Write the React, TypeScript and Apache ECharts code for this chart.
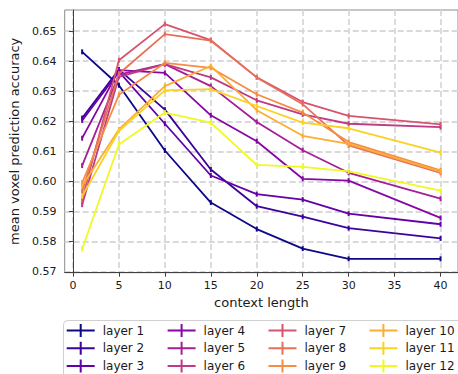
import React, { useEffect, useRef } from "react";
import * as echarts from "echarts";

const contextLengths = [1, 5, 10, 15, 20, 25, 30, 40];
const xTicks = [0, 5, 10, 15, 20, 25, 30, 35, 40];
const yTicks = [0.57, 0.58, 0.59, 0.6, 0.61, 0.62, 0.63, 0.64, 0.65];

const layer1 = [0.6431, 0.632, 0.6103, 0.593, 0.5842, 0.5777, 0.5743, 0.5743];
const layer2 = [0.6211, 0.6372, 0.6239, 0.604, 0.5918, 0.5883, 0.5845, 0.5811];
const layer3 = [0.6203, 0.6365, 0.6192, 0.602, 0.5958, 0.594, 0.5893, 0.5858];
const layer4 = [0.6144, 0.637, 0.6361, 0.622, 0.6134, 0.6009, 0.6003, 0.5879];
const layer5 = [0.6053, 0.6355, 0.639, 0.6317, 0.6198, 0.6104, 0.6029, 0.5943];
const layer6 = [0.5923, 0.6348, 0.639, 0.6346, 0.627, 0.6223, 0.6192, 0.6181];
const layer7 = [0.594, 0.6403, 0.6523, 0.647, 0.6346, 0.6264, 0.6218, 0.619];
const layer8 = [0.5968, 0.6358, 0.649, 0.6468, 0.6346, 0.6257, 0.612, 0.6029];
const layer9 = [0.5996, 0.6288, 0.6394, 0.6378, 0.629, 0.6229, 0.6131, 0.6037];
const layer10 = [0.5985, 0.6173, 0.6317, 0.6384, 0.6237, 0.6152, 0.6125, 0.6033];
const layer11 = [0.5951, 0.6168, 0.6303, 0.6307, 0.6251, 0.6196, 0.6177, 0.6096];
const layer12 = [0.5776, 0.6123, 0.6229, 0.6196, 0.6055, 0.6049, 0.6034, 0.597];

const layerNames = [
  "layer 1", "layer 2", "layer 3", "layer 4", "layer 5", "layer 6",
  "layer 7", "layer 8", "layer 9", "layer 10", "layer 11", "layer 12",
];
const layerValues = [
  layer1, layer2, layer3, layer4, layer5, layer6,
  layer7, layer8, layer9, layer10, layer11, layer12,
];
const layerColors = [
  "#0d0887", "#3a049a", "#6300a7", "#8606a6", "#a51f97", "#c03a83",
  "#d6546e", "#e7705a", "#f58d45", "#fcad33", "#f9d224", "#f0f921",
];

const FONT = "DejaVu Sans";
const TEXT = "#1a1a1a";

const errIcon = "path://M0,5.5 L28,5.5 L28,7.5 L0,7.5 Z M13,0 L15,0 L15,13 L13,13 Z";

export default function App() {
  const ref = useRef<HTMLDivElement>(null);
  useEffect(() => {
    if (!ref.current) return;
    const chart = echarts.init(ref.current, null, { renderer: "svg" });
    const series = layerNames.map((name, i) => ({
      type: "line",
      name,
      data: contextLengths.map((x, j) => [x, layerValues[i][j]]),
      symbol: "rect",
      symbolSize: [2, 5],
      showSymbol: true,
      lineStyle: { width: 1.8, color: layerColors[i] },
      itemStyle: { color: layerColors[i] },
      emphasis: { disabled: true },
    }));
    const legends = [0, 1, 2, 3].map((c) => ({
      orient: "vertical",
      left: 66.7 + c * 100.9,
      top: 324,
      padding: 0,
      height: 60,
      itemWidth: 28,
      itemHeight: 13,
      itemGap: 4.7,
      icon: errIcon,
      selectedMode: false,
      data: layerNames.slice(c * 3, c * 3 + 3),
      textStyle: { fontFamily: FONT, fontSize: 12, color: TEXT, padding: [0, 0, 0, 3] },
    }));
    chart.setOption({
      animation: false,
      backgroundColor: "#ffffff",
      grid: {
        left: 61.6,
        top: 10,
        right: -3.1,
        bottom: 101.3,
        show: true,
        borderColor: "#8c8c8c",
        borderWidth: 1,
        backgroundColor: "#ffffff",
      },
      xAxis: {
        type: "value",
        min: -0.9,
        max: 41.9,
        name: "context length",
        nameLocation: "middle",
        nameGap: 23,
        nameTextStyle: { fontFamily: FONT, fontSize: 13, color: TEXT },
        axisLine: { show: true, lineStyle: { color: "#404040", width: 1 } },
        axisTick: { show: true, length: 4, inside: false, customValues: xTicks, lineStyle: { color: "#404040" } },
        axisLabel: { customValues: xTicks, margin: 7.5, fontFamily: FONT, fontSize: 11, color: TEXT },
        splitLine: { show: true, lineStyle: { color: "#d9d9d9", width: 1.8, type: [6, 3] } },
      },
      yAxis: {
        type: "value",
        min: 0.5697,
        max: 0.657,
        name: "mean voxel prediction accuracy",
        nameLocation: "middle",
        nameGap: 34,
        nameTextStyle: { fontFamily: FONT, fontSize: 13, color: TEXT },
        axisLine: { show: true, lineStyle: { color: "#404040", width: 1 } },
        axisTick: { show: true, length: 4, inside: false, customValues: yTicks, lineStyle: { color: "#404040" } },
        axisLabel: { customValues: yTicks, margin: 8.3, fontFamily: FONT, fontSize: 11, color: TEXT, formatter: (v: number) => v.toFixed(2) },
        splitLine: { show: true, lineStyle: { color: "#d9d9d9", width: 1.8, type: [6, 3] } },
      },
      legend: legends,
      graphic: [
        {
          type: "rect",
          shape: { x: 63.5, y: 320.5, width: 420, height: 70, r: 4 },
          style: { fill: "#ffffff", stroke: "#d0d0d0", lineWidth: 1 },
          z: 0,
        },
      ],
      series,
    });
    return () => chart.dispose();
  }, []);
  return (
    <div
      ref={ref}
      style={{ position: "fixed", left: 0, top: 0, width: 458, height: 374 }}
    />
  );
}
